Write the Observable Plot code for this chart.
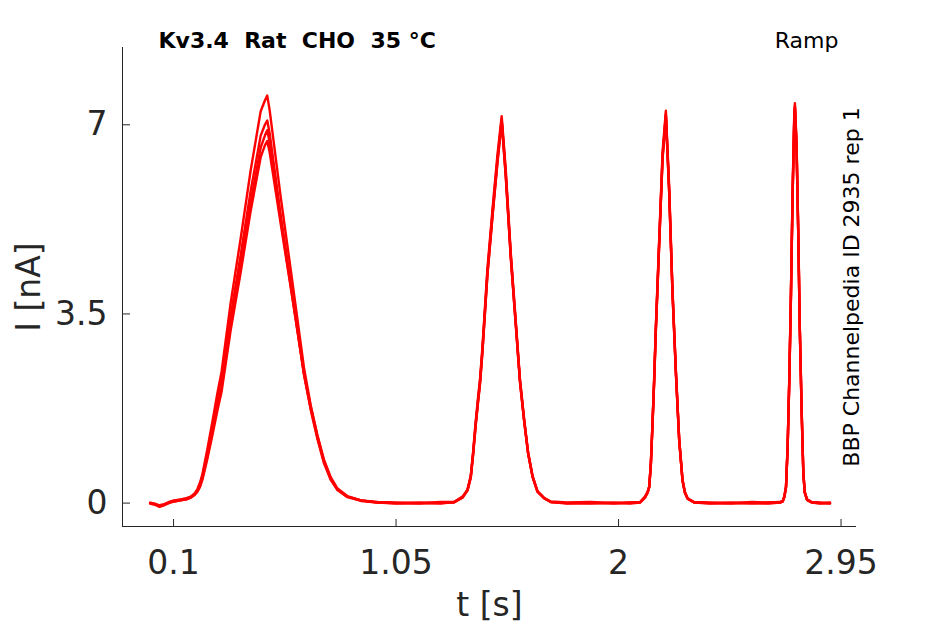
<!DOCTYPE html>
<html>
<head>
<meta charset="utf-8">
<script src="https://cdn.jsdelivr.net/npm/d3@7"></script>
<script src="https://cdn.jsdelivr.net/npm/@observablehq/plot@0.6"></script>
<style>
  html, body { margin: 0; padding: 0; background: #fff; }
  #chart { width: 945px; height: 624px; }
</style>
</head>
<body>
<div id="chart"></div>
<script>
// ---- data ----
const titleText = "Kv3.4\u00a0\u00a0Rat\u00a0\u00a0CHO\u00a0\u00a035 °C";
const protocolText = "Ramp";
const sourceText = "BBP Channelpedia ID 2935 rep 1";
const xLabel = "t [s]";
const yLabel = "I [nA]";

const xTicks = [0.1, 1.05, 2, 2.95];
const xTickLabels = ["0.1", "1.05", "2", "2.95"];
const yTicks = [0, 3.5, 7];
const yTickLabels = ["0", "3.5", "7"];
const xDomain = [-0.118, 3.016];
const yDomain = [-0.433, 8.43];

// time samples [s]
const time = [
  0, 0.02, 0.04, 0.06, 0.08, 0.102, 0.13, 0.155,
  0.173, 0.190, 0.202, 0.213, 0.223, 0.244, 0.266, 0.287, 0.305, 0.344, 0.387, 0.429, 0.472, 0.490, 0.500,
  0.510, 0.557, 0.600, 0.643, 0.657, 0.686, 0.714, 0.742, 0.771, 0.800, 0.842, 0.900, 0.971,
  1.05, 1.15, 1.24, 1.298,
  1.334, 1.355, 1.369, 1.379, 1.390, 1.400, 1.409, 1.419, 1.440, 1.462, 1.483, 1.501, 1.518, 1.540, 1.561, 1.579, 1.597, 1.614, 1.633, 1.654, 1.682, 1.711,
  1.78, 1.88, 1.98, 2.05, 2.092,
  2.113, 2.124, 2.131, 2.138, 2.145, 2.152, 2.159, 2.174, 2.188, 2.202, 2.216, 2.230, 2.245, 2.259, 2.273, 2.283, 2.295, 2.323,
  2.39, 2.48, 2.57, 2.64, 2.690,
  2.701, 2.708, 2.715, 2.722, 2.729, 2.736, 2.743, 2.750, 2.753, 2.760, 2.767, 2.774, 2.782, 2.789, 2.795, 2.805, 2.825,
  2.86, 2.903
];

// current traces [nA]
const trace1 = [
  0.01, -0.01, -0.04, -0.02, 0.02, 0.05, 0.07, 0.09,
  0.12, 0.18, 0.26, 0.38, 0.53, 0.99, 1.51, 2.03, 2.43, 3.71, 4.91, 6.15, 7.25, 7.45, 7.54,
  7.28, 5.68, 4.33, 2.95, 2.50, 1.80, 1.25, 0.78, 0.45, 0.25, 0.12, 0.05, 0.02,
  0.01, 0.00, 0.02, 0.02,
  0.12, 0.25, 0.51, 0.95, 1.51, 1.95, 2.32, 2.90, 4.33, 5.45, 6.45, 7.16, 6.20, 4.62, 3.38, 2.30, 1.55, 0.94, 0.50, 0.22, 0.10, 0.03,
  0.01, 0.02, 0.00, 0.01, 0.02,
  0.12, 0.21, 0.31, 0.75, 1.50, 2.31, 3.25, 4.93, 6.50, 7.26, 5.87, 3.99, 2.44, 1.19, 0.44, 0.21, 0.09, 0.02,
  0.01, 0.00, 0.02, 0.01, 0.02,
  0.04, 0.13, 0.31, 1.07, 2.31, 3.88, 5.75, 7.15, 7.40, 6.68, 5.12, 3.25, 1.69, 0.57, 0.21, 0.07, 0.02,
  0.01, 0.00
];
const trace2 = [
  0.00, -0.02, -0.06, -0.03, 0.01, 0.04, 0.06, 0.08,
  0.11, 0.17, 0.24, 0.35, 0.49, 0.92, 1.41, 1.90, 2.27, 3.47, 4.60, 5.77, 6.80, 7.00, 7.08,
  6.85, 5.35, 4.08, 2.80, 2.38, 1.72, 1.19, 0.74, 0.43, 0.24, 0.11, 0.04, 0.01,
  0.00, 0.01, -0.01, 0.02,
  0.11, 0.24, 0.49, 0.92, 1.47, 1.90, 2.27, 2.85, 4.27, 5.38, 6.37, 7.10, 6.13, 4.57, 3.34, 2.27, 1.53, 0.92, 0.49, 0.21, 0.09, 0.02,
  0.00, 0.01, -0.01, 0.00, 0.02,
  0.11, 0.20, 0.30, 0.73, 1.47, 2.27, 3.20, 4.88, 6.43, 7.20, 5.81, 3.95, 2.41, 1.17, 0.43, 0.20, 0.08, 0.01,
  0.00, 0.01, -0.01, 0.00, 0.01,
  0.03, 0.12, 0.30, 1.05, 2.28, 3.83, 5.69, 7.08, 7.35, 6.62, 5.07, 3.21, 1.67, 0.56, 0.20, 0.06, 0.01,
  0.00, 0.01
];
const trace3 = [
  -0.01, -0.03, -0.07, -0.04, 0.00, 0.03, 0.05, 0.07,
  0.10, 0.16, 0.22, 0.32, 0.46, 0.86, 1.33, 1.80, 2.16, 3.32, 4.42, 5.56, 6.58, 6.80, 6.90,
  6.68, 5.25, 4.02, 2.78, 2.38, 1.74, 1.22, 0.77, 0.45, 0.25, 0.12, 0.05, 0.01,
  -0.01, 0.00, 0.01, 0.01,
  0.10, 0.23, 0.47, 0.89, 1.43, 1.86, 2.22, 2.80, 4.21, 5.31, 6.30, 7.05, 6.07, 4.52, 3.30, 2.24, 1.51, 0.91, 0.48, 0.21, 0.09, 0.02,
  -0.01, 0.00, 0.01, -0.01, 0.01,
  0.10, 0.19, 0.29, 0.71, 1.44, 2.23, 3.15, 4.83, 6.37, 7.15, 5.76, 3.91, 2.38, 1.15, 0.42, 0.19, 0.08, 0.01,
  -0.01, 0.00, 0.01, -0.01, 0.01,
  0.03, 0.11, 0.29, 1.03, 2.25, 3.79, 5.64, 7.02, 7.30, 6.57, 5.03, 3.18, 1.65, 0.55, 0.19, 0.06, 0.01,
  -0.01, 0.00
];
const trace4 = [
  0.00, -0.02, -0.05, -0.03, 0.01, 0.03, 0.05, 0.07,
  0.10, 0.15, 0.21, 0.30, 0.43, 0.81, 1.26, 1.71, 2.06, 3.20, 4.28, 5.40, 6.40, 6.62, 6.70,
  6.50, 5.18, 4.00, 2.80, 2.40, 1.78, 1.26, 0.81, 0.48, 0.27, 0.13, 0.05, 0.01,
  0.00, -0.01, 0.00, 0.02,
  0.11, 0.24, 0.48, 0.90, 1.45, 1.88, 2.25, 2.82, 4.22, 5.33, 6.32, 7.08, 6.09, 4.55, 3.32, 2.26, 1.52, 0.92, 0.49, 0.21, 0.09, 0.02,
  0.00, -0.01, 0.00, 0.01, 0.01,
  0.11, 0.20, 0.30, 0.72, 1.45, 2.25, 3.17, 4.85, 6.39, 7.18, 5.78, 3.93, 2.40, 1.16, 0.42, 0.20, 0.08, 0.01,
  0.00, -0.01, 0.00, 0.01, 0.02,
  0.03, 0.12, 0.29, 1.04, 2.26, 3.81, 5.66, 7.05, 7.33, 6.60, 5.05, 3.20, 1.66, 0.55, 0.20, 0.06, 0.01,
  0.00, -0.01
];

const traces = [trace1, trace2, trace3, trace4];
const rows = traces.flatMap((vals, k) => time.map((t, i) => ({t, I: vals[i], trace: k})));

// ---- layout ----
const W = 945, H = 624;
const mL = 122, mR = 89, mT = 47, mB = 98;
const frameW = W - mL - mR, frameH = H - mT - mB;
const axisColor = "#262626";

const chart = Plot.plot({
  width: W,
  height: H,
  marginLeft: mL,
  marginRight: mR,
  marginTop: mT,
  marginBottom: mB,
  style: {fontFamily: "'DejaVu Sans', sans-serif", color: axisColor, background: "#fff", overflow: "visible"},
  x: {domain: xDomain},
  y: {domain: yDomain},
  marks: [
    // axis lines (left + bottom only)
    Plot.ruleX([xDomain[0]], {stroke: axisColor, strokeWidth: 1}),
    Plot.ruleY([yDomain[0]], {stroke: axisColor, strokeWidth: 1}),
    // inward ticks
    Plot.tickX(xTicks, {x: d => d, insetTop: frameH - 7, stroke: axisColor, strokeWidth: 1}),
    Plot.tickY(yTicks, {y: d => d, insetRight: frameW - 8, stroke: axisColor, strokeWidth: 1}),
    // tick labels
    Plot.axisX(xTicks, {tickSize: 0, tickPadding: 24, fontSize: 33, fill: axisColor,
      tickFormat: d => xTickLabels[xTicks.indexOf(d)], label: null}),
    Plot.axisY(yTicks, {tickSize: 0, tickPadding: 15, fontSize: 33, fill: axisColor,
      tickFormat: d => yTickLabels[yTicks.indexOf(d)], label: null}),
    // traces
    Plot.line(rows, {x: "t", y: "I", z: "trace", stroke: "#ff0000", strokeWidth: 2.4, strokeLinejoin: "round"}),
    // axis labels
    Plot.text([xLabel], {frameAnchor: "bottom", dy: 89, textAnchor: "middle", lineAnchor: "bottom", fontSize: 33, fill: axisColor}),
    Plot.text([yLabel], {frameAnchor: "left", dx: -83, rotate: -90, textAnchor: "middle", lineAnchor: "bottom", fontSize: 33, fill: axisColor}),
    // annotations
    Plot.text([titleText], {frameAnchor: "top-left", dx: 36, textAnchor: "start", lineAnchor: "bottom",
      fontSize: 22, fontWeight: "bold", fill: "#000"}),
    Plot.text([protocolText], {frameAnchor: "top-right", dx: -18, textAnchor: "end", lineAnchor: "bottom",
      fontSize: 22, fill: "#000"}),
    Plot.text([sourceText], {frameAnchor: "right", dx: 2, rotate: -90, textAnchor: "middle", lineAnchor: "bottom",
      fontSize: 22, fill: "#000"})
  ]
});
document.getElementById("chart").appendChild(chart);
</script>
</body>
</html>
